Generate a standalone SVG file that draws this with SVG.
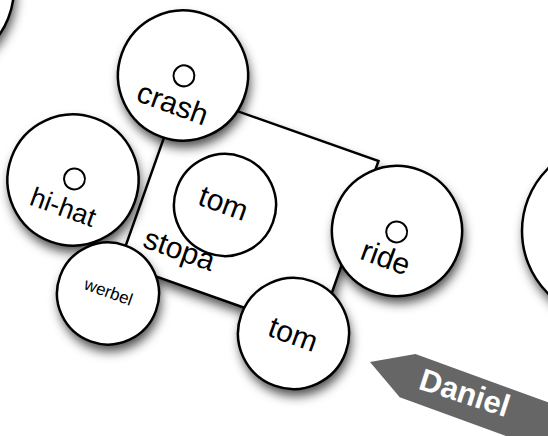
<svg xmlns="http://www.w3.org/2000/svg" width="548" height="436" viewBox="0 0 548 436">
<defs>
<filter id="blur" x="-50%" y="-50%" width="200%" height="200%">
<feGaussianBlur stdDeviation="5.5"/>
</filter>
</defs>
<style>
.n{fill:#fff;stroke:#000;stroke-width:2.5}
.sh{fill:#000;fill-opacity:0.7;filter:url(#blur)}
.d{fill:none;stroke:#000;stroke-width:2}
.t{font-family:"Liberation Sans",Arial,Helvetica,sans-serif;fill:#000;text-anchor:middle}
.lbl{font-family:"Liberation Sans",Arial,Helvetica,sans-serif;font-weight:bold;fill:#fff;text-anchor:middle}
</style>
<rect width="548" height="436" fill="#fff"/>
<g id="connectors"/>
<g id="corner-node">
<circle class="sh" cx="-66" cy="-5" r="82"/>
<circle class="n" cx="-68" cy="-12" r="82"/>
</g>
<g id="right-node">
<circle class="sh" cx="612" cy="238" r="88"/>
<circle class="n" cx="610" cy="231" r="88"/>
</g>
<g id="stopa">
<rect class="sh" x="0" y="0" width="210" height="183" transform="translate(182.5,98) rotate(19.5)"/>
<rect class="n" x="0" y="0" width="210" height="183" transform="translate(180.5,91) rotate(19.5)"/>
<text class="t" font-size="30" transform="translate(178.5,252.5) rotate(19.5)" x="0" y="7">stopa</text>
</g>
<g id="tom-inner" transform="translate(225,205) rotate(20)">
<circle class="n" cx="0" cy="0" r="51" stroke-width="2"/>
<text class="t" font-size="30" x="-2" y="9">tom</text>
</g>
<g id="crash">
<circle class="sh" cx="185" cy="82.5" r="65"/>
<g transform="translate(183,75.5) rotate(20)">
<circle class="n" cx="0" cy="0" r="65"/>
<circle class="d" cx="1" cy="0" r="10.5"/>
<text class="t" font-size="30" x="0" y="40">crash</text>
</g>
</g>
<g id="hi-hat">
<circle class="sh" cx="75" cy="187" r="65.5"/>
<g transform="translate(73,180) rotate(20)">
<circle class="n" cx="0" cy="0" r="65.5"/>
<circle class="d" cx="1" cy="-1.5" r="10.5"/>
<text class="t" font-size="27" x="0" y="38">hi-hat</text>
</g>
</g>
<g id="werbel">
<circle class="sh" cx="110" cy="300.5" r="51"/>
<g transform="translate(108,293.5) rotate(20)">
<circle class="n" cx="0" cy="0" r="51"/>
<text class="t" font-size="17" x="0" y="4">werbel</text>
</g>
</g>
<g id="ride">
<circle class="sh" cx="399" cy="238" r="65"/>
<g transform="translate(397,231) rotate(20)">
<circle class="n" cx="0" cy="0" r="65"/>
<circle class="d" cx="0" cy="1" r="10.5"/>
<text class="t" font-size="30" x="-1.5" y="39">ride</text>
</g>
</g>
<g id="tom-bottom">
<circle class="sh" cx="295.5" cy="340.5" r="55.5"/>
<g transform="translate(293.5,333.5) rotate(20)">
<circle class="n" cx="0" cy="0" r="55.5"/>
<text class="t" font-size="30" x="0" y="11">tom</text>
</g>
</g>
<g id="daniel" transform="translate(370,362) rotate(20)">
<path d="M0,0 L40,-23 H183 A12,12 0 0 1 195,-11 V11 A12,12 0 0 1 183,23 H40 Z" fill="#666"/>
<text class="lbl" font-size="31" x="100" y="7" transform="rotate(-2 100 7)">Daniel</text>
</g>
</svg>
